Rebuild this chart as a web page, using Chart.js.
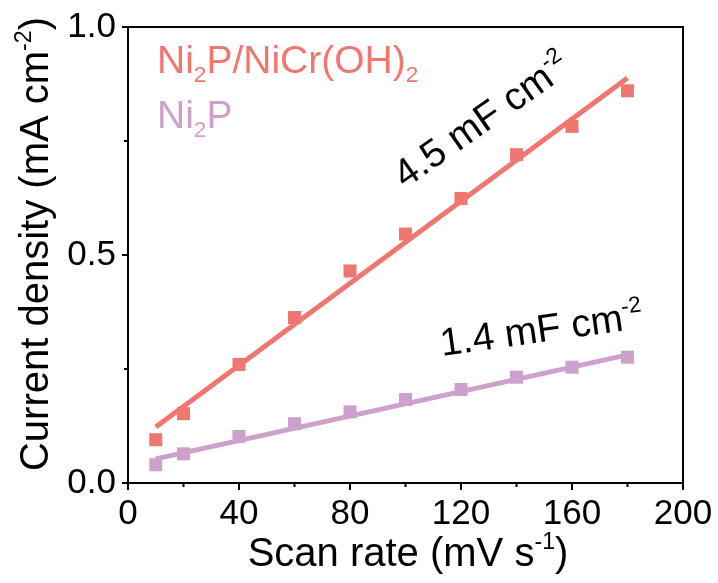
<!DOCTYPE html>
<html>
<head>
<meta charset="utf-8">
<script src="https://cdn.jsdelivr.net/npm/chart.js@4.4.1/dist/chart.umd.min.js"></script>
<style>
  html, body { margin: 0; padding: 0; background: #fff; }
  #wrap { width: 718px; height: 583px; }
</style>
</head>
<body>
<div id="wrap"><canvas id="chart" width="718" height="583"></canvas></div>
<script>
// Data
const scanRates = [10, 20, 40, 60, 80, 100, 120, 140, 160, 180];
const ni2pNiCr = [0.095, 0.152, 0.260, 0.363, 0.465, 0.546, 0.624, 0.720, 0.782, 0.860];
const ni2p = [0.040, 0.064, 0.102, 0.130, 0.156, 0.183, 0.205, 0.232, 0.254, 0.276];
// fitted lines (end points)
const fitX = [10, 180];
const ni2pNiCrFit = [0.123, 0.888];
const ni2pFit = [0.053, 0.281];

const xMajor = [0, 40, 80, 120, 160, 200];
const xMinor = [20, 60, 100, 140, 180];
const yMajor = [0, 0.5, 1.0];
const yMinor = [0.25, 0.75];

const RED = '#f07670';
const PURPLE = '#cea0cc';
const FONT = '"Liberation Sans", Arial, sans-serif';

function pts(xs, ys) {
  return xs.map((x, i) => ({ x: x, y: ys[i] }));
}

// draw text made of pieces, some as sub/superscript
function richWidth(ctx, parts, size) {
  let w = 0;
  parts.forEach((p) => {
    const s = p.sub || p.sup ? size * 0.58 : size;
    ctx.font = s + 'px ' + FONT;
    w += ctx.measureText(p.t).width;
  });
  return w;
}

function drawRich(ctx, parts, x, y, size, color) {
  let cx = x;
  ctx.fillStyle = color;
  ctx.textBaseline = 'alphabetic';
  ctx.textAlign = 'left';
  parts.forEach((p) => {
    let s = size;
    let dy = 0;
    if (p.sub) { s = size * 0.58; dy = size * 0.23; }
    if (p.sup) { s = size * 0.58; dy = -size * 0.42; }
    ctx.font = s + 'px ' + FONT;
    ctx.fillText(p.t, cx, y + dy);
    cx += ctx.measureText(p.t).width;
  });
}

const decorPlugin = {
  id: 'decor',
  afterDraw(chart) {
    const ctx = chart.ctx;
    const area = chart.chartArea;
    const xs = chart.scales.x;
    const ys = chart.scales.y;
    ctx.save();

    // frame
    ctx.strokeStyle = '#000';
    ctx.lineWidth = 2;
    ctx.strokeRect(area.left, area.top, area.right - area.left, area.bottom - area.top);

    // ticks
    ctx.beginPath();
    xMajor.forEach((v) => {
      const px = xs.getPixelForValue(v);
      ctx.moveTo(px, area.bottom);
      ctx.lineTo(px, area.bottom + 7);
    });
    xMinor.forEach((v) => {
      const px = xs.getPixelForValue(v);
      ctx.moveTo(px, area.bottom);
      ctx.lineTo(px, area.bottom + 4);
    });
    yMajor.forEach((v) => {
      const py = ys.getPixelForValue(v);
      ctx.moveTo(area.left, py);
      ctx.lineTo(area.left - 6, py);
    });
    yMinor.forEach((v) => {
      const py = ys.getPixelForValue(v);
      ctx.moveTo(area.left, py);
      ctx.lineTo(area.left - 4, py);
    });
    ctx.stroke();

    // axis titles
    const xTitle = [{ t: 'Scan rate (mV s' }, { t: '-1', sup: true }, { t: ')' }];
    const xw = richWidth(ctx, xTitle, 40);
    drawRich(ctx, xTitle, 408 - xw / 2, 566, 40, '#000');

    const yTitle = [{ t: 'Current density (mA cm' }, { t: '-2', sup: true }, { t: ')' }];
    const yw = richWidth(ctx, yTitle, 40);
    ctx.save();
    ctx.translate(48, 244 + yw / 2);
    ctx.rotate(-Math.PI / 2);
    drawRich(ctx, yTitle, 0, 0, 40, '#000');
    ctx.restore();

    // legend
    drawRich(ctx, [{ t: 'Ni' }, { t: '2', sub: true }, { t: 'P/NiCr(OH)' }, { t: '2', sub: true }], 157, 73, 39, RED);
    drawRich(ctx, [{ t: 'Ni' }, { t: '2', sub: true }, { t: 'P' }], 157, 128, 39, PURPLE);

    // slope labels
    ctx.save();
    ctx.translate(405, 189);
    ctx.rotate(-35 * Math.PI / 180);
    drawRich(ctx, [{ t: '4.5 mF cm' }, { t: '-2', sup: true }], 0, 0, 39, '#000');
    ctx.restore();

    ctx.save();
    ctx.translate(442, 356);
    ctx.rotate(-8 * Math.PI / 180);
    drawRich(ctx, [{ t: '1.4 mF cm' }, { t: '-2', sup: true }], 0, 0, 39, '#000');
    ctx.restore();

    ctx.restore();
  },
};

const ctx = document.getElementById('chart').getContext('2d');
new Chart(ctx, {
  type: 'scatter',
  data: {
    datasets: [
      {
        label: 'Ni2P/NiCr(OH)2 fit',
        data: pts(fitX, ni2pNiCrFit),
        showLine: true,
        borderColor: RED,
        borderWidth: 5,
        pointRadius: 0,
      },
      {
        label: 'Ni2P fit',
        data: pts(fitX, ni2pFit),
        showLine: true,
        borderColor: PURPLE,
        borderWidth: 5,
        pointRadius: 0,
      },
      {
        label: 'Ni2P/NiCr(OH)2',
        data: pts(scanRates, ni2pNiCr),
        pointStyle: 'rect',
        pointRadius: 9.2,
        pointBorderWidth: 0,
        backgroundColor: RED,
      },
      {
        label: 'Ni2P',
        data: pts(scanRates, ni2p),
        pointStyle: 'rect',
        pointRadius: 9.2,
        pointBorderWidth: 0,
        backgroundColor: PURPLE,
      },
    ],
  },
  options: {
    responsive: false,
    animation: false,
    devicePixelRatio: 1,
    layout: { padding: { top: 27, right: 35, left: 0, bottom: 0 } },
    plugins: {
      legend: { display: false },
      tooltip: { enabled: false },
    },
    scales: {
      x: {
        type: 'linear',
        min: 0,
        max: 200,
        grid: { display: false, drawTicks: false },
        border: { display: false },
        afterFit: (s) => {
          s.height = 100;
          s.paddingLeft = 0;
          s.paddingRight = 0;
        },
        ticks: {
          stepSize: 20,
          autoSkip: false,
          maxRotation: 0,
          padding: 10,
          color: '#000',
          font: { family: FONT, size: 35 },
          callback: (v) => (v % 40 === 0 ? String(v) : ''),
        },
      },
      y: {
        type: 'linear',
        min: 0,
        max: 1,
        grid: { display: false, drawTicks: false },
        border: { display: false },
        afterFit: (s) => {
          s.width = 128;
          s.paddingTop = 0;
          s.paddingBottom = 0;
        },
        ticks: {
          stepSize: 0.25,
          autoSkip: false,
          padding: 12,
          color: '#000',
          font: { family: FONT, size: 35 },
          callback: (v) => (Math.abs(v * 2 - Math.round(v * 2)) < 1e-9 ? v.toFixed(1) : ''),
        },
      },
    },
  },
  plugins: [decorPlugin],
});
</script>
</body>
</html>
